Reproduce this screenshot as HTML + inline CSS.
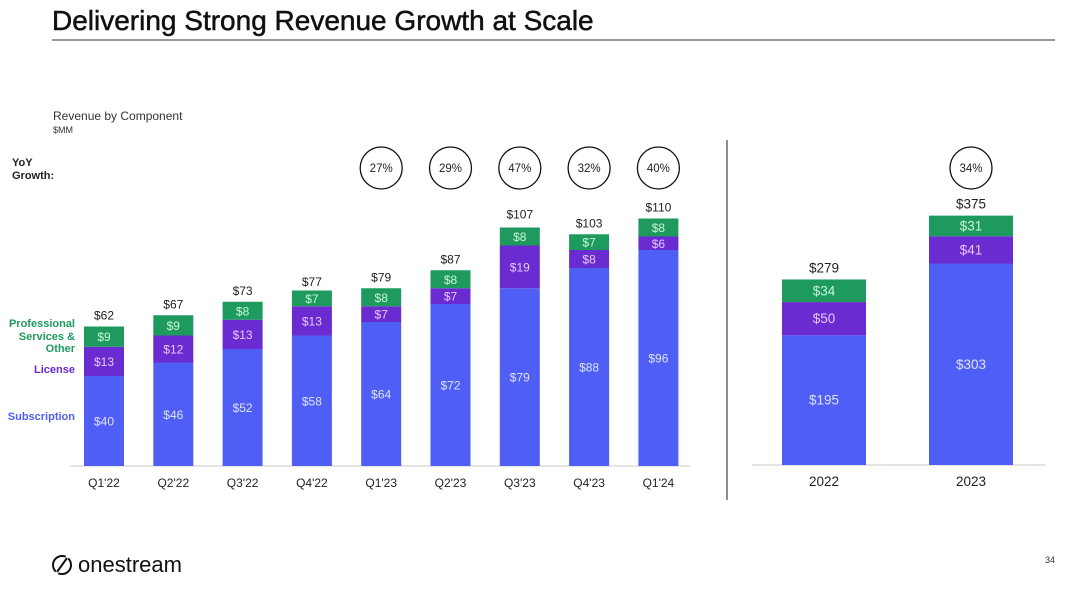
<!DOCTYPE html>
<html><head><meta charset="utf-8">
<style>
body{margin:0;width:1080px;height:598px;background:#fff;font-family:"Liberation Sans",sans-serif;overflow:hidden;position:relative}
</style></head>
<body>
<svg width="1080" height="598" xmlns="http://www.w3.org/2000/svg" font-family="Liberation Sans, sans-serif">
<text x="52" y="30" font-size="28" fill="#111" stroke="#111" stroke-width="0.5">Delivering Strong Revenue Growth at Scale</text>
<line x1="52" y1="40" x2="1055" y2="40" stroke="#333" stroke-width="1"/>
<text x="53" y="120" font-size="12" fill="#333">Revenue by Component</text>
<text x="53" y="133" font-size="9" fill="#333">$MM</text>
<text x="12" y="166" font-size="11" font-weight="bold" fill="#222"><tspan x="12">YoY</tspan><tspan x="12" dy="13">Growth:</tspan></text>
<text font-size="11" font-weight="bold" fill="#1f9a5e" text-anchor="end"><tspan x="75" y="327">Professional</tspan><tspan x="75" y="340">Services &amp;</tspan><tspan x="75" y="352">Other</tspan></text>
<text x="75" y="373" font-size="11" font-weight="bold" fill="#6a2bd0" text-anchor="end">License</text>
<text x="75" y="420" font-size="11" font-weight="bold" fill="#4f5ff5" text-anchor="end">Subscription</text>
<line x1="70" y1="466" x2="690" y2="466" stroke="#e4e4e4" stroke-width="2"/>
<line x1="752" y1="465" x2="1045" y2="465" stroke="#e4e4e4" stroke-width="2"/>
<line x1="727" y1="140" x2="727" y2="500" stroke="#444" stroke-width="1.2"/>
<g id="chart"></g>
<g>
<circle cx="62" cy="565" r="9" fill="none" stroke="#111" stroke-width="2"/>
<line x1="56" y1="574" x2="68" y2="556" stroke="#fff" stroke-width="3"/>
<line x1="57" y1="572" x2="67" y2="558" stroke="#111" stroke-width="2"/>
<text x="78" y="572" font-size="22" fill="#111">onestream</text>
</g>
<text x="1045" y="563" font-size="9" fill="#333">34</text>
</svg>
<script>
const qCats=["Q1'22","Q2'22","Q3'22","Q4'22","Q1'23","Q2'23","Q3'23","Q4'23","Q1'24"];
const qSub=[40,46,52,58,64,72,79,88,96];
const qLic=[13,12,13,13,7,7,19,8,6];
const qSvc=[9,9,8,7,8,8,8,7,8];
const qTot=[62,67,73,77,79,87,107,103,110];
const qYoY=[null,null,null,null,"27%","29%","47%","32%","40%"];
const yCats=["2022","2023"];
const ySub=[195,303];
const yLic=[50,41];
const ySvc=[34,31];
const yTot=[279,375];
const yYoY=[null,"34%"];

const NS="http://www.w3.org/2000/svg";
const g=document.getElementById('chart');
const colors={sub:"#4f5ff5",lic:"#6a2bd0",svc:"#1f9a5e"};
function qx(i){return 104+i*69.3;}
function qy(v){return 466-v*2.25;}
function yx(i){return 824+i*147;}
function yy(v){return 465-v*0.665;}
function mk(tag,attrs){const e=document.createElementNS(NS,tag);for(const k in attrs)e.setAttribute(k,attrs[k]);g.appendChild(e);return e;}
function txt(x,y,s,size,fill,name){const t=mk('text',{x:x,y:y,'font-size':size,fill:fill,'text-anchor':'middle'});t.textContent=s;


return t;}
function drawSet(cats,sub,lic,svc,tot,yoy,xf,yf,w,base,prefix,fs,xs){
 cats.forEach((c,i)=>{
  const cx=xf(i);let acc=0;
  [[sub[i],colors.sub,'subscription'],[lic[i],colors.lic,'license'],[svc[i],colors.svc,'services']].forEach(([v,col,nm])=>{
   const y0=yf(acc),y1=yf(acc+v);
   const r=mk('rect',{x:cx-w/2,y:y1,width:w,height:y0-y1,fill:col});
   
   
   txt(cx,(y0+y1)/2+4.5,'$'+v,fs,nm==='license'?'#e8c8ff':(nm==='services'?'#c8f5dc':'#dde2ff'),prefix+'-value-'+nm+'-'+i);
   acc+=v;
  });
  txt(cx,yf(tot[i])-7,'$'+tot[i],xs,'#222',prefix+'-total-'+i);
  txt(cx,base+21,c,xs,'#222',prefix+'-xlabel-'+i);
  if(yoy[i]){
   const ci=mk('circle',{cx:cx,cy:168,r:21,fill:'none',stroke:'#111','stroke-width':1.3});
   
   
   txt(cx,172,yoy[i],11.5,'#222',prefix+'-yoy-'+i);
  }
 });
}
drawSet(qCats,qSub,qLic,qSvc,qTot,qYoY,qx,qy,40,466,'q',12,12);
drawSet(yCats,ySub,yLic,ySvc,yTot,yYoY,yx,yy,84,465,'y',13.5,13.5);
</script>
</body></html>
